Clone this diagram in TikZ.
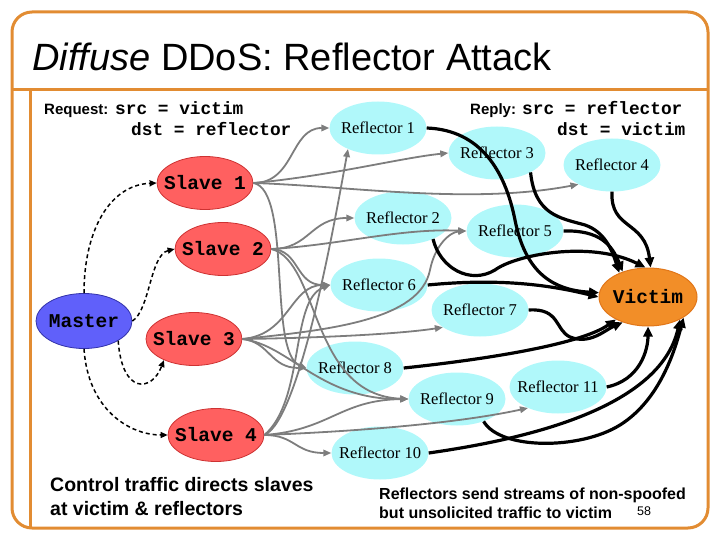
\documentclass[tikz,border=0pt]{standalone}
\usepackage{fontspec}
\setmainfont{Liberation Serif}
\newfontfamily\arialf{Liberation Sans}
\newfontfamily\monof{Liberation Mono}
\usetikzlibrary{shapes.geometric,arrows.meta}
\definecolor{frameor}{RGB}{226,140,50}
\definecolor{refl}{RGB}{176,248,250}
\definecolor{slavef}{RGB}{255,96,96}
\definecolor{slaved}{RGB}{205,50,50}
\definecolor{masterf}{RGB}{96,96,250}
\definecolor{masterd}{RGB}{50,50,170}
\definecolor{victf}{RGB}{242,142,40}
\definecolor{victd}{RGB}{225,118,25}
\definecolor{grayln}{RGB}{125,125,125}
\newcommand{\nb}[1]{\makebox[0pt]{#1}}
\begin{document}
\begin{tikzpicture}[x=1pt,y=-1pt,
  ell/.style={ellipse,inner sep=0pt},
  refnode/.style={ell,fill=refl,minimum width=97pt,minimum height=53pt,font=\fontsize{16.5}{18}\selectfont},
  slavenode/.style={ell,fill=slavef,draw=slaved,line width=0.8pt,minimum width=96pt,minimum height=53pt,font=\monof\bfseries\fontsize{19.5}{20}\selectfont},
  masternode/.style={ell,fill=masterf,draw=masterd,line width=0.8pt,minimum width=96pt,minimum height=55pt,font=\monof\bfseries\fontsize{19.5}{20}\selectfont},
  victnode/.style={ell,fill=victf,draw=victd,line width=1pt,minimum width=98pt,minimum height=58pt,font=\monof\bfseries\fontsize{19.5}{20}\selectfont},
  txt/.style={inner sep=0pt,anchor=base west},
  monotxt/.style={txt,font=\monof\bfseries\fontsize{17.8}{18}\selectfont},
  lbltxt/.style={txt,font=\arialf\bfseries\fontsize{15}{16}\selectfont},
  bigtxt/.style={txt,font=\arialf\bfseries\fontsize{19.5}{20}\selectfont},
  smalltxt/.style={txt,font=\arialf\bfseries\fontsize{16}{17}\selectfont},
  frameln/.style={draw=frameor,line width=3pt},
  garrow/.style={draw=grayln,line width=1.8pt,-{Triangle[length=8pt,width=6.5pt]}},
  barrow/.style={draw=black,line width=3.2pt,-{Triangle[length=10pt,width=9pt]}},
  darrow/.style={draw=black,line width=1.5pt,dash pattern=on 4pt off 3pt,-{Triangle[length=7pt,width=6pt]}}
]
\useasboundingbox (0,0) rectangle (720,540);
% frame
\draw[frameln,rounded corners=20pt] (12,12) rectangle (708,528);
\draw[frameln] (12,90) -- (708,90);
\draw[frameln] (30,90) -- (30,528);
% title
\node[txt,font=\arialf\fontsize{38}{40}\selectfont] (title) at (32,71) {{\itshape Diffuse} DDoS: Reflector Attack};
% header texts
\node[lbltxt] (reqlbl) at (44,115) {Request:};
\node[monotxt] (req1) at (115,115) {src = victim};
\node[monotxt] (req2) at (131,136) {dst = reflector};
\node[lbltxt] (replbl) at (470,115) {Reply:};
\node[monotxt] (rep1) at (522,115) {src = reflector};
\node[monotxt] (rep2) at (557,136) {dst = victim};
% bottom texts
\node[bigtxt] (ctl1) at (50,491) {Control traffic directs slaves};
\node[bigtxt] (ctl2) at (50,515) {at victim \& reflectors};
\node[smalltxt] (rf1) at (379,499) {Reflectors send streams of non-spoofed};
\node[smalltxt] (rf2) at (379,518) {but unsolicited traffic to victim};
\node[txt,font=\arialf\fontsize{12.5}{13}\selectfont] (pg) at (637,515) {58};
% nodes
\node[masternode] (m) at (84,321) {\nb{Master}};
\node[slavenode] (s1) at (205,183) {\nb{Slave 1}};
\node[slavenode] (s2) at (223,249) {\nb{Slave 2}};
\node[slavenode] (s3) at (194,339) {\nb{Slave 3}};
\node[slavenode] (s4) at (216,435) {\nb{Slave 4}};
\node[victnode] (v) at (648,297) {\nb{Victim}};
\node[refnode] (r1) at (378,128) {\nb{Reflector 1}};
\node[refnode] (r2) at (403,218) {\nb{Reflector 2}};
\node[refnode] (r3) at (497,153) {\nb{Reflector 3}};
\node[refnode] (r4) at (612,165) {\nb{Reflector 4}};
\node[refnode] (r5) at (515,231) {\nb{Reflector 5}};
\node[refnode] (r6) at (379,285) {\nb{Reflector 6}};
\node[refnode] (r7) at (480,310) {\nb{Reflector 7}};
\node[refnode] (r8) at (355,368) {\nb{Reflector 8}};
\node[refnode] (r9) at (457,399) {\nb{Reflector 9}};
\node[refnode] (r10) at (380,453) {\nb{Reflector 10}};
\node[refnode] (r11) at (558,387) {\nb{Reflector 11}};
% control (dashed)
\draw[darrow] (m.north) .. controls (84,230) and (110,185) .. (s1.west);
\draw[darrow] (m.east) .. controls (150,310) and (150,255) .. (s2.west);
\draw[darrow] (m.-30) .. controls (122,395) and (152,392) .. (s3.-145);
\draw[darrow] (m.south) .. controls (88,410) and (130,435) .. (s4.west);
% attack traffic (gray)
\draw[garrow] (s1.east) .. controls (295,183) and (290,128) .. (r1.west);
\draw[garrow] (s1.east) .. controls (330,176) and (400,158) .. (r3.west);
\draw[garrow] (s1.east) .. controls (350,186) and (470,205) .. (r4.-150);
\draw[garrow] (s1.east) .. controls (292,190) and (268,352) .. (r8.west);
\draw[garrow] (s2.east) .. controls (310,249) and (310,218) .. (r2.west);
\draw[garrow] (s2.east) .. controls (340,245) and (400,228) .. (r5.west);
\draw[garrow] (s2.east) .. controls (300,250) and (295,285) .. (r6.west);
\draw[garrow] (s2.east) .. controls (320,262) and (310,395) .. (r9.west);
\draw[garrow] (s3.east) .. controls (290,335) and (290,285) .. (r6.west);
\draw[garrow] (s3.east) .. controls (320,338) and (400,334) .. (r7.-155);
\draw[garrow] (s3.east) .. controls (270,342) and (270,368) .. (r8.west);
\draw[garrow] (s3.east) .. controls (290,345) and (320,400) .. (r9.west);
\draw[garrow] (s3.east) .. controls (330,330) and (420,320) .. (430,270) .. controls (435,245) and (450,232) .. (r5.west);
\draw[garrow] (s4.east) .. controls (300,420) and (335,220) .. (r1.-145);
\draw[garrow] (s4.east) .. controls (305,400) and (290,300) .. (r6.west);
\draw[garrow] (s4.east) .. controls (295,435) and (295,453) .. (r10.west);
\draw[garrow] (s4.east) .. controls (330,430) and (340,400) .. (r9.west);
\draw[garrow] (s4.east) .. controls (340,432) and (450,425) .. (r11.-145);
% reflected traffic (black)
\draw[barrow] (r1.east) .. controls (480,130) and (505,170) .. (515,220) .. controls (525,270) and (550,290) .. (v.175);
\draw[barrow] (r2.-35) .. controls (440,268) and (470,285) .. (495,270) .. controls (515,255) and (590,240) .. (v.95);
\draw[barrow] (r3.-30) .. controls (535,215) and (560,218) .. (585,225) .. controls (605,232) and (612,250) .. (v.140);
\draw[barrow] (r4.south) .. controls (610,230) and (645,220) .. (v.85);
\draw[barrow] (r5.east) .. controls (600,230) and (612,245) .. (v.135);
\draw[barrow] (r6.east) .. controls (500,278) and (550,285) .. (v.180);
\draw[barrow] (r7.east) .. controls (560,308) and (555,330) .. (570,337) .. controls (590,345) and (605,330) .. (v.-135);
\draw[barrow] (r8.east) .. controls (480,360) and (580,345) .. (v.-145);
\draw[barrow] (r11.east) .. controls (640,380) and (648,350) .. (v.-90);
\draw[barrow] (r10.east) .. controls (520,440) and (660,410) .. (v.-35);
\draw[barrow] (r9.-40) .. controls (500,450) and (580,450) .. (620,425) .. controls (660,400) and (675,350) .. (v.-30);
\end{tikzpicture}
\end{document}
